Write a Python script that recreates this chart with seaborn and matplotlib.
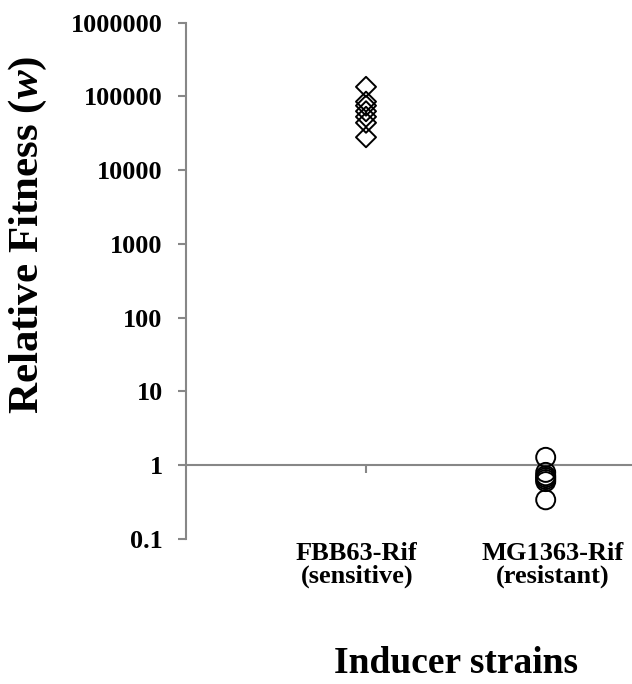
import numpy as np
import pandas as pd
import matplotlib
matplotlib.use("Agg")
import matplotlib.pyplot as plt
import seaborn as sns
from matplotlib.ticker import FixedLocator, FixedFormatter, NullLocator

# ---- data ----
strains = ["FBB63-Rif", "MG1363-Rif"]
phenotypes = ["(sensitive)", "(resistant)"]
strain_pos = [1, 2]
fbb63_fitness = [135000, 85000, 75000, 63000, 53000, 44000, 28000]
mg1363_fitness = [1.28, 0.80, 0.72, 0.68, 0.64, 0.60, 0.34]
ytick_values = [0.1, 1, 10, 100, 1000, 10000, 100000, 1000000]
ytick_labels = ["0.1", "1", "10", "100", "1000", "10000", "100000", "1000000"]

df = pd.DataFrame({
    "strain": [strains[0]] * len(fbb63_fitness) + [strains[1]] * len(mg1363_fitness),
    "x": [strain_pos[0]] * len(fbb63_fitness) + [strain_pos[1]] * len(mg1363_fitness),
    "w": fbb63_fitness + mg1363_fitness,
})

sns.set_style("white")
plt.rcParams["font.family"] = ["Liberation Serif", "DejaVu Serif"]
plt.rcParams["font.weight"] = "bold"
plt.rcParams["text.color"] = "black"
plt.rcParams["axes.labelcolor"] = "black"
plt.rcParams["xtick.labelcolor"] = "black"
plt.rcParams["ytick.labelcolor"] = "black"
plt.rcParams["mathtext.fontset"] = "custom"
plt.rcParams["mathtext.it"] = "Liberation Serif:italic:bold"
plt.rcParams["mathtext.rm"] = "Liberation Serif:bold"

W, H = 632, 684
fig = plt.figure(figsize=(W / 100, H / 100), dpi=100)
left_px, right_px, top_px, bot_px = 186.3, 632, 22.7, 539
ax = fig.add_axes([left_px / W, (H - bot_px) / H, (right_px - left_px) / W, (bot_px - top_px) / H])

gray = "#878787"
sns.scatterplot(data=df[df["strain"] == strains[0]], x="x", y="w", marker="D", s=104,
                facecolor="none", edgecolor="black", linewidth=1.4, ax=ax,
                zorder=3, clip_on=False)
sns.scatterplot(data=df[df["strain"] == strains[1]], x="x", y="w", marker="o", s=187,
                facecolor="none", edgecolor="black", linewidth=1.4, ax=ax,
                zorder=3, clip_on=False)

ax.set_yscale("log")
ax.set_ylim(0.1, 1e6)
ax.set_xlim(0, (right_px - left_px) / 179.7)
ax.yaxis.set_major_locator(FixedLocator(ytick_values))
ax.yaxis.set_major_formatter(FixedFormatter(ytick_labels))
ax.yaxis.set_minor_locator(NullLocator())
ax.xaxis.set_major_locator(FixedLocator(strain_pos))
ax.xaxis.set_minor_locator(NullLocator())
ax.set_xticklabels([])
ax.set_xlabel("")
ax.set_ylabel("")

for s in ["top", "right"]:
    ax.spines[s].set_visible(False)
ax.spines["bottom"].set_position(("data", 1))
for s in ["left", "bottom"]:
    ax.spines[s].set_color(gray)
    ax.spines[s].set_linewidth(1.5)

ax.tick_params(axis="y", direction="out", length=5.5, width=1.5, color=gray,
               labelsize=18.8, pad=11.5, left=True, labelcolor="black")
ax.tick_params(axis="x", direction="out", length=5.5, width=1.5, color=gray,
               bottom=True, labelbottom=False)
for lab in ax.get_yticklabels():
    lab.set_fontweight("bold")

# category labels below plot
label_cx = [356.7, 552.5]
for name, ph, cx in zip(strains, phenotypes, label_cx):
    fig.text(cx / W, 1 - 560 / H, name, ha="center", va="baseline", fontsize=19,
             fontweight="bold", color="black")
    fig.text(cx / W, 1 - 583 / H, ph, ha="center", va="baseline", fontsize=19,
             fontweight="bold", color="black")

fig.text(455.8 / W, 1 - 673.3 / H, "Inducer strains", ha="center", va="baseline",
         fontsize=27, fontweight="bold", color="black")
fig.text(28 / W, 1 - 235 / H, "Relative Fitness ($\\mathit{w}$)", ha="center", va="center",
         rotation=90, fontsize=31, fontweight="bold", color="black")

fig.savefig("out.png", dpi=100, facecolor="white")
